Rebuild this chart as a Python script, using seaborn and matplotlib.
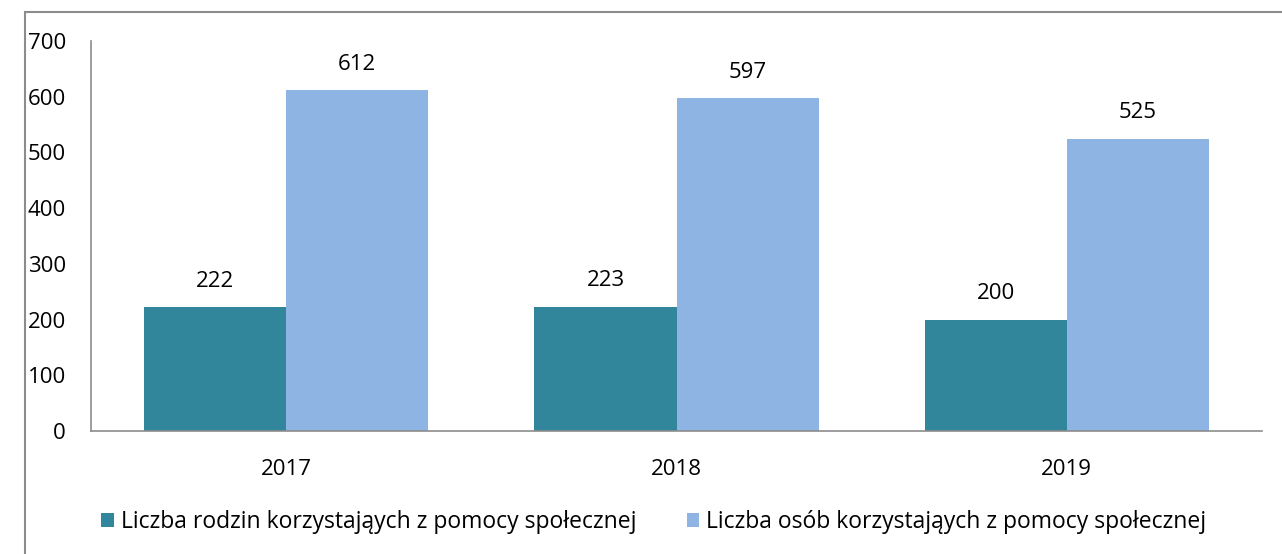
import matplotlib
matplotlib.use("Agg")
import matplotlib.pyplot as plt
import seaborn as sns
import pandas as pd
from matplotlib.patches import Rectangle

years = ["2017", "2018", "2019"]
rodziny = [222, 223, 200]
osoby = [612, 597, 525]
series_names = ["Liczba rodzin korzystająych z pomocy społecznej",
                "Liczba osób korzystająych z pomocy społecznej"]
colors = ["#31869C", "#8EB4E3"]

df = pd.DataFrame({
    "rok": years * 2,
    "wartosc": rodziny + osoby,
    "seria": [series_names[0]] * 3 + [series_names[1]] * 3,
})

sns.set_style("white")
plt.rcParams["font.family"] = ["Open Sans", "DejaVu Sans"]
plt.rcParams["text.color"] = "black"
plt.rcParams["xtick.color"] = "black"
plt.rcParams["ytick.color"] = "black"

fig = plt.figure(figsize=(12.82, 5.54), dpi=100)
ax = fig.add_axes([91 / 1282, 1 - 431 / 554, 1171 / 1282, 390 / 554])

sns.barplot(data=df, x="rok", y="wartosc", hue="seria", palette=colors,
            width=0.728, gap=0, saturation=1, linewidth=0, ax=ax, legend=True)

for cont in ax.containers:
    ax.bar_label(cont, padding=11, fontsize=16, color="black")

ax.set_ylim(0, 700)
ax.set_yticks(range(0, 701, 100))
ax.set_xlim(-0.5, 2.5)
ax.set_xlabel("")
ax.set_ylabel("")
ax.tick_params(axis="y", labelsize=16, length=0, pad=18, labelcolor="black")
ax.tick_params(axis="x", labelsize=16, length=0, pad=20, labelcolor="black")
for s in ["top", "right"]:
    ax.spines[s].set_visible(False)
for s in ["left", "bottom"]:
    ax.spines[s].set_color("#8c8c8c")
    ax.spines[s].set_linewidth(1.2)

handles, labels = ax.get_legend_handles_labels()
ax.legend_.remove()
fig.legend(handles, labels, loc="center", bbox_to_anchor=(0.51, 0.058), ncol=2,
           frameon=False, fontsize=16.5, handlelength=0.55, handleheight=0.55,
           handletextpad=0.3, columnspacing=2.2, labelcolor="black")

# ramka wokol wykresu
fig.patches.append(Rectangle((25 / 1282, -0.05), 1.1, 1 - 12 / 554 + 0.05,
                             transform=fig.transFigure, fill=False,
                             edgecolor="#8c8c8c", linewidth=1.5))

fig.savefig("out.png", dpi=100)
